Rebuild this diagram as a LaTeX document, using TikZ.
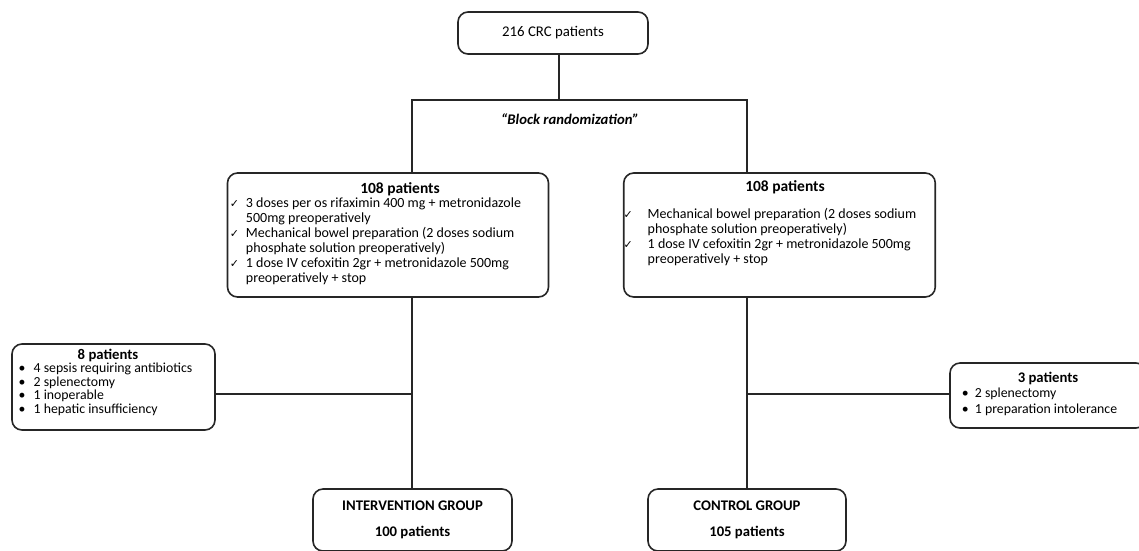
\documentclass[tikz,border=0pt]{standalone}
\usepackage{fontspec}
\setmainfont{Carlito}
\newfontfamily\symfont{DejaVu Sans}
\newcommand{\ck}{{\symfont\fontsize{11}{11}\selectfont ✓}}
\newcommand{\bl}{\textbullet}
\begin{document}
\begin{tikzpicture}[x=1pt,y=-1pt,
  box/.style={draw=black!85, line width=1.6pt, rounded corners=10pt, inner sep=0pt, align=center},
  conn/.style={draw=black!85, line width=1.6pt}]
\useasboundingbox (0,0) rectangle (1139,550);
\node[box, minimum width=190, minimum height=42, font=\fontsize{14.8}{15}\selectfont] (top) at (553,33) {216 CRC patients};
\coordinate (split) at (559,100);
\coordinate (sl) at (412,100);
\coordinate (sr) at (747,100);
\coordinate (jl) at (412,394);
\coordinate (jr) at (747,394);
\node[font=\fontsize{14.7}{15}\selectfont\bfseries\itshape] (rand) at (570,119) {“Block randomization”};
\node[box, minimum width=321, minimum height=124, font=\fontsize{14}{15}\selectfont] (lbox) at (388,235) {%
\hspace*{24pt}{\bfseries\fontsize{15.5}{15}\selectfont 108 patients}\\
\begin{tabular}{@{}p{16pt}@{}l@{}}
\ck & 3 doses per os rifaximin 400 mg + metronidazole\\
 & 500mg preoperatively\\
\ck & Mechanical bowel preparation (2 doses sodium\\
 & phosphate solution preoperatively)\\
\ck & 1 dose IV cefoxitin 2gr + metronidazole 500mg\\
 & preoperatively + stop
\end{tabular}\hspace*{25pt}};
\node[box, minimum width=307, minimum height=124, font=\fontsize{14}{15}\selectfont] (rbox) at (779.5,235) {%
\hspace*{11pt}{\bfseries\fontsize{15.5}{15}\selectfont 108 patients}\\[13pt]
\begin{tabular}{@{}p{24pt}@{}l@{}}
\ck & Mechanical bowel preparation (2 doses sodium\\
 & phosphate solution preoperatively)\\
\ck & 1 dose IV cefoxitin 2gr + metronidazole 500mg\\
 & preoperatively + stop\\[22pt]
\end{tabular}\hspace*{19pt}};
\node[box, minimum width=203, minimum height=86, font=\fontsize{13.8}{13.5}\selectfont] (lside) at (113.5,387) {%
{\bfseries\fontsize{14.7}{13.5}\selectfont 8 patients}\hspace*{11pt}\\
\begin{tabular}{@{}p{15pt}@{}l@{}}
\bl & 4 sepsis requiring antibiotics\\
\bl & 2 splenectomy\\
\bl & 1 inoperable\\
\bl & 1 hepatic insufficiency\\[7pt]
\end{tabular}\hspace*{16pt}};
\node[box, minimum width=196, minimum height=65, font=\fontsize{13.8}{16.5}\selectfont] (rside) at (1048,395.5) {%
{\bfseries\fontsize{14.7}{16.5}\selectfont 3 patients}\\
\begin{tabular}{@{}p{13pt}@{}l@{}}
\bl & 2 splenectomy\\
\bl & 1 preparation intolerance
\end{tabular}\hspace*{17pt}};
\node[box, minimum width=199, minimum height=62, font=\fontsize{14.7}{26}\selectfont\bfseries] (igrp) at (412.5,520) {INTERVENTION GROUP\\100 patients};
\node[box, minimum width=198, minimum height=62, font=\fontsize{14.7}{26}\selectfont\bfseries] (cgrp) at (747,520) {CONTROL GROUP\\105 patients};
\draw[conn] (top.south -| split) -- (split);
\draw[conn] (lbox.north -| sl) -- (sl) -- (sr) -- (rbox.north -| sr);
\draw[conn] (lbox.south -| sl) -- (igrp.north -| sl);
\draw[conn] (rbox.south -| sr) -- (cgrp.north -| sr);
\draw[conn] (lside.east |- jl) -- (jl);
\draw[conn] (rside.west |- jr) -- (jr);
\end{tikzpicture}
\end{document}
